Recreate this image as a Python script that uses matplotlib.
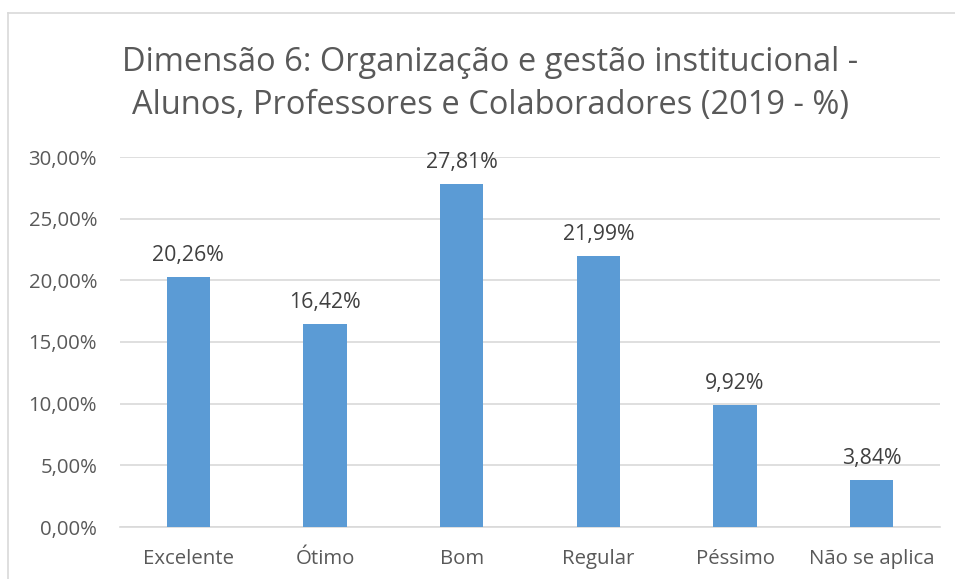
import matplotlib
matplotlib.use("Agg")
import matplotlib.pyplot as plt
from matplotlib.lines import Line2D
from matplotlib.ticker import FuncFormatter, MultipleLocator

categories = ["Excelente", "Ótimo", "Bom", "Regular", "Péssimo", "Não se aplica"]
values = [20.26, 16.42, 27.81, 21.99, 9.92, 3.84]
title = "Dimensão 6: Organização e gestão institucional -\nAlunos, Professores e Colaboradores (2019 - %)"

plt.rcParams["font.family"] = ["Open Sans", "DejaVu Sans"]

W, H = 955, 579
fig = plt.figure(figsize=(W / 100, H / 100), dpi=100)
ax = fig.add_axes([120 / W, 1 - 527 / H, 820 / W, 370 / H])

x = list(range(len(categories)))
ax.bar(x, values, width=0.315, color="#5B9BD5", zorder=3)
for xi, v in zip(x, values):
    ax.annotate(f"{v:.2f}%".replace(".", ","), (xi, v), xytext=(0, 8),
                textcoords="offset points", ha="center", va="bottom",
                fontsize=15.3, color="#404040")

ax.set_xlim(-0.5, len(categories) - 0.5)
ax.set_ylim(0, 30)
ax.yaxis.set_major_locator(MultipleLocator(5))
ax.yaxis.set_major_formatter(FuncFormatter(lambda v, p: f"{v:.2f}%".replace(".", ",")))
ax.grid(axis="y", color="#D9D9D9", linewidth=1.2, zorder=0)
ax.set_xticks(x)
ax.set_xticklabels(categories)
for s in ["top", "right", "left"]:
    ax.spines[s].set_visible(False)
ax.spines["bottom"].set_color("#D9D9D9")
ax.spines["bottom"].set_linewidth(1.2)
ax.tick_params(axis="both", length=0, labelsize=14.7, labelcolor="#595959")
ax.tick_params(axis="y", pad=16.5)
ax.tick_params(axis="x", pad=16)

fig.text(490 / W, 1 - 84 / H, title, ha="center", va="center", fontsize=23.5,
         color="#595959", linespacing=1.38)

# chart frame
fig.add_artist(Line2D([8 / W, 8 / W], [0, 1 - 13 / H], transform=fig.transFigure,
                      color="#D9D9D9", linewidth=1.2))
fig.add_artist(Line2D([8 / W, 1], [1 - 13 / H, 1 - 13 / H], transform=fig.transFigure,
                      color="#D9D9D9", linewidth=1.2))

fig.savefig("out.png", dpi=100, facecolor="white")
